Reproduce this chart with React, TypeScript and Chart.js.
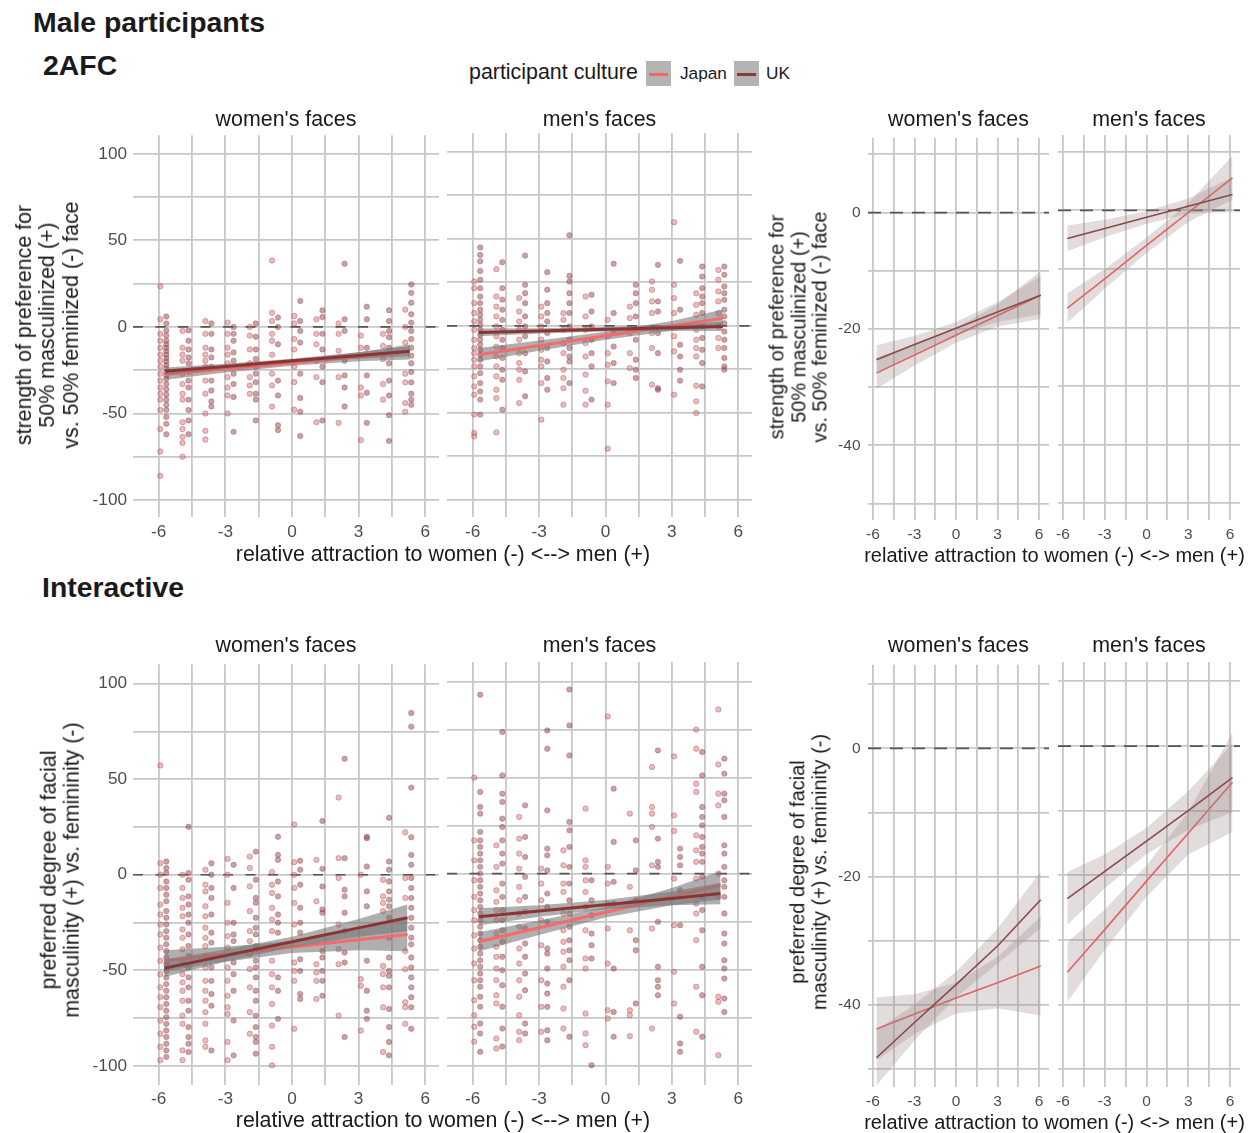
import React, { useEffect, useRef } from 'react';
import { Chart, registerables } from 'chart.js';
Chart.register(...registerables);

const FONT = '"Liberation Sans", Arial, Helvetica, sans-serif';

// ---------- shared axis values ----------
const X_GRID = [-6, -4.5, -3, -1.5, 0, 1.5, 3, 4.5, 6];
const X_LABELS = [-6, -3, 0, 3, 6];
const Y_GRID_RAW = [-100, -75, -50, -25, 0, 25, 50, 75, 100];
const Y_LABELS_RAW = [-100, -50, 0, 50, 100];
const Y_GRID_EST = [-50, -40, -30, -20, -10, 0, 10];
const Y_LABELS_EST = [-40, -20, 0];

// x position of each response column (even index = Japan, odd = UK)
const COL_X = [-5.93, -5.66, -4.93, -4.66, -3.9, -3.63, -2.9, -2.63, -1.9, -1.63, -0.9, -0.63,
  0.1, 0.37, 1.1, 1.37, 2.1, 2.37, 3.1, 3.37, 4.1, 4.37, 5.1, 5.37];

// ---------- 2AFC raw points ----------
const afcWomenCols: number[][] = [
  [23.5, 4.4, -4, -8, -12, -16, -19.5, -23, -27, -31, -35, -38.6, -42, -48, -59, -72, -86],
  [6, 2, -2, -5, -8, -10, -12, -14, -16, -18, -20, -22, -24, -26, -28, -30, -33, -36, -39, -42, -45, -48, -52, -56, -62],
  [-2.3, -12, -16, -19.5, -27, -33, -38.6, -42, -55, -59, -63.5, -67, -75],
  [-2, -8, -13, -17.6, -21, -26, -31, -35, -42, -48, -54, -62],
  [3.4, -4, -12, -16, -19.5, -23, -31, -38.6, -50, -60, -65],
  [2, -4, -13, -17.6, -23, -31, -36.7, -43, -46],
  [2.5, -4, -12, -16, -21, -29, -35, -39.6, -50],
  [0, -4, -8, -14.7, -19.5, -27, -33, -40.5, -60.6],
  [0, -5, -13, -21, -29, -33.8, -38.6],
  [2, -5.7, -13, -18.5, -23, -27, -31.9, -38.6, -42, -54],
  [38.4, 8.2, 3.4, -4, -8, -16, -27, -33.8, -46],
  [5.4, 0, -10, -31, -39.6, -56.8, -59.6],
  [6.3, 2, -7, -13, -23, -31.9, -47.8],
  [15, 3.4, -2.3, -9, -27, -41, -49, -63],
  [4.4, -4, -10, -19.5, -29, -55],
  [9.6, 5.7, -4, -13, -23, -31.9, -54],
  [2, -4, -13.8, -29, -55.4],
  [36.5, 4.4, -2.3, -19.5, -28, -35, -46],
  [-5, -12, -35, -39.6, -65.4],
  [11.7, 4.4, -12, -28, -38, -55.4],
  [-4, -11, -18.5, -33, -42],
  [9.6, 3.4, -2.3, -6, -12, -21, -31, -39.6, -51, -65.8],
  [10, 0, -9, -27, -32, -44, -49],
  [24.5, 19.7, 14, 7.3, 2.5, -2.3, -7, -12, -16.6, -21, -26, -32, -38.6, -42, -45],
];

const afcMenCols: number[][] = [
  [25.4, 21.6, 13, 7.3, 2.5, -2.3, -8, -12.8, -15.7, -19.5, -23.3, -29, -34.8, -39.6, -51, -61.6, -63.5],
  [45, 40.7, 37, 31.5, 26.4, 21.6, 16.8, 13, 9.2, 6.3, 3.4, 0.6, -2.3, -5.2, -8, -10.9, -13.8, -16.6, -19.5, -23.3, -27.2, -32.9, -37.7, -42.4, -51],
  [32.5, 16.8, 11, 5.4, -0.4, -6, -12, -17.6, -23.3, -29, -36.7, -41.5, -61.2],
  [36.5, 21.6, 15, 9.2, 3.4, -2.3, -8, -12.8, -18.5, -25.2, -31, -48.2],
  [15.9, 8.2, 2.5, -2.3, -8, -15.7, -21.4, -25.2, -31, -44.4],
  [40.3, 23.5, 18.7, 13, 5.4, -0.4, -6, -15.7, -26.2, -40.5],
  [11, 5.4, -0.4, -8, -13.8, -19.5, -23.3, -32.9, -53.9],
  [30.8, 20.7, 13, 7.3, 2.5, -4.2, -12.8, -20.5, -30, -36.7],
  [7.3, 3.4, -2.3, -9.9, -15.7, -25.2, -30, -35.8, -45.3],
  [52, 28.7, 25.4, 18.7, 13, 7.3, -0.4, -8, -12.8, -17.6, -20.5, -32.9],
  [16.8, 5.4, -2.3, -9.9, -17.6, -28, -37.3, -45.3],
  [17.8, 8.2, -0.4, -8, -15.7, -23.3, -42.4],
  [3.4, -6, -15.7, -22.4, -31.9, -45.3, -70.6],
  [35.6, 7.3, -4.2, -11.9, -21.4, -32.9],
  [11, 4.4, -4.2, -15.7, -24.3],
  [23.5, 18.7, 13, 5.4, -2.3, -8, -19.5, -25.2, -30],
  [25.4, 20.7, 14, 7.3, -4.2, -12.8, -33.8],
  [35, 14, 8.2, -4.2, -15.7, -35.8, -36.7],
  [59.5, 23.5, 15.9, 7.3, -6, -14.7, -39.6],
  [37.3, 9.2, -0.4, -10.9, -17.6, -25.2, -31.5],
  [18.7, 12, 6.3, -2.3, -8, -12.8, -17.6, -34.4, -43.4, -50.1],
  [34, 28.3, 21.6, 16.8, 13, 7.3, -0.4, -7, -13.8, -21.4, -34.8],
  [32.1, 26.4, 19.7, 14, 7.3, -0.4, -7, -12.8],
  [34, 29.3, 22.6, 18.7, 14.9, 9.2, 5.4, 1.5, -3.3, -8, -12.8, -18.5, -23.3, -25.2],
];

// ---------- Interactive raw points ----------
const intWomenCols: number[][] = [
  [57.2, 6, 0, -6.9, -15.6, -20.8, -26, -31.2, -38.1, -45, -52, -58.9, -64, -69.3, -76.3, -83.2, -90, -97],
  [6.9, 3.5, 0.9, -3.5, -6.9, -10.4, -13.9, -19, -22.5, -26, -29.5, -32.9, -36.4, -39.9, -43.3, -46.8, -50.3, -53.7, -57.2, -60.7, -64.1, -67.6, -71.1, -74.5, -78, -81.5, -84.9, -88.4, -91.9, -95.3],
  [0, -6.9, -12.1, -17.3, -21.7, -28.6, -33, -39, -45, -52, -56.3, -60.7, -65.9, -73.7, -78, -91.9, -97],
  [25.1, 0.9, -2.6, -11.3, -15.6, -20.8, -25.1, -31.2, -37.3, -42.5, -48.5, -53.7, -58.9, -65.9, -71.1, -79.7, -84.9, -88.4, -92.7],
  [2.6, -5.2, -8.7, -16.5, -21.7, -27.7, -33, -37.3, -42.5, -48.5, -55.5, -60.7, -65.9, -71.9, -78, -86.7, -90],
  [6, 0, -6.9, -12.1, -20.8, -30.3, -35.5, -43.3, -48.5, -55.5, -62.4, -68.5, -91.9],
  [8.3, 0, -14.7, -25.1, -32.1, -38.1, -48.5, -55.5, -63.3, -69.3, -72.8, -87.5, -97],
  [5.2, -6.9, -25.1, -31.2, -34.7, -45.9, -52, -60.7, -76.3, -94.5],
  [9.5, 3.5, -6.1, -19, -29.5, -34.7, -41.6, -49.4, -58.9, -71.9, -83.2],
  [12.1, -2.6, -12.1, -14.7, -22.5, -27.7, -31.2, -37.3, -45, -48.5, -53.7, -60.7, -65.9, -73.7, -79.7, -84.9, -87.5, -93.6],
  [1.4, -5.2, -9.5, -17.3, -23.4, -29.5, -45, -52, -58.9, -67.6, -78.9, -90, -99.7],
  [19.9, 10.4, 7.8, -3.5, -11.3, -20.8, -25.1, -30.3, -53.7, -60.7, -75.4],
  [26.3, 6.6, 0, -6.9, -14.7, -26, -45.9, -50.3, -55.5, -80.6],
  [7.3, 2.6, -5.2, -17.3, -25.1, -30.3, -44.2, -50.3, -62.4, -65],
  [7.8, -13.9, -46.8, -51.1, -55.5, -65],
  [28.1, 3.1, -6.1, -18.2, -19.9, -39.9, -43.3, -50.3, -55.5, -63.3],
  [40.4, 8.7, -1.7, -26, -39, -46.8, -73.7],
  [60.7, 8.7, -7.8, -11.3, -19.9, -29.5, -40.7, -45.9, -84.9],
  [0, -54.6, -58.1, -81.5],
  [19.9, 19.1, 4.3, -8.7, -16.5, -45, -60.7, -71.1, -75.4],
  [-2.6, -11.3, -14.7, -19, -47.7, -52, -58.9, -69.3, -92.7],
  [29.8, 6.9, 2.6, -3.5, -8.7, -13, -16.5, -22.5, -32.9, -43.3, -50.3, -52.9, -58.9, -70.2, -79.7, -87.5, -94.5],
  [22.2, -1.7, -12.1, -39.9, -49.4, -66.7, -69.3, -78],
  [84.6, 77.5, 45.6, 19.6, 10.4, 5.2, -1.7, -6.9, -12.1, -17.3, -22.5, -27.7, -32.9, -36.4, -43.3, -48.5, -53.7, -58.9, -64.1, -69.3, -80.6],
];

const intMenCols: number[][] = [
  [49.9, 17.3, 6.9, -3.5, -12.1, -19, -24.3, -32.1, -39, -46.8, -55.5, -65.9, -73.7, -79.7, -87.5],
  [93.1, 42.5, 34.7, 31.2, 21.7, 17.3, 13.9, 10.4, 6.9, 3.5, 0, -3.5, -6.9, -10.4, -13.9, -17.3, -20.8, -24.3, -27.7, -31.2, -34.7, -38.1, -41.6, -45.1, -48.5, -52, -55.5, -58.9, -64.1, -69.3, -78, -83.2, -92.7],
  [14.7, 3.5, -8.7, -14.7, -19, -24.3, -31.2, -38.1, -43.3, -49.4, -55.5, -63.3, -67.6, -85.8, -91],
  [73.7, 51.1, 41.6, 37.3, 28.6, 24.3, 17.3, 10.4, 5.2, -5.2, -12.1, -19, -24.3, -29.5, -35.5, -43.3, -50.3, -58.1, -69.3, -80.6, -90],
  [29.5, 18.2, 10.4, 2.6, -6.9, -13.9, -20.8, -27.7, -39, -46.8, -55.5, -64.1, -73.7, -82.3, -86.7],
  [35.5, 19.1, 8.7, -1.7, -12.1, -19.9, -28.6, -36.4, -43.3, -52, -60.7, -78, -83.2],
  [2.6, -5.2, -13.9, -24.3, -37.3, -55.5, -69.3, -82.3],
  [74.5, 65, 32.9, 13, 9.5, 1.7, -10.4, -17.3, -25.1, -39, -41.6, -49.4, -57.2, -62.4, -69.3, -81.5, -86.7],
  [12.1, 4.3, -5.2, -9.5, -20.8, -29.5, -35.5, -40.7, -48.5, -58.9, -70.2, -80.6],
  [95.8, 77.1, 61.5, 26.9, 22.5, 13.9, 3.5, -5.2, -13.9, -20.8, -27.7, -34.7, -39.9, -45.1, -55.5, -84.9],
  [33.8, 6.9, 3.5, -3.5, -9.5, -17.3, -29.5, -44.2, -49.4, -72.8, -83.2, -89.3],
  [-3.5, -13.9, -21.7, -31.2, -37.3, -44.2, -99.7],
  [81.8, 3.5, -5.2, -15.6, -28.6, -46.8, -71.1, -75.4],
  [44.2, 16.5, -4.3, -15.6, -49.4, -72, -84.9],
  [31.2, -6.9, -29.5, -71.1, -73.7, -84.6],
  [17.3, 1.7, -13.9, -34.7, -39.9, -67.6],
  [55.5, 34.7, 31.2, 24.3, 4.3, -28.6, -80.6],
  [64.1, 18.2, 6.1, 3.5, -25.1, -48.5, -55.5, -58.9, -63.3],
  [61, 30.3, 22.2, -2.6, -26.9, -51.1, -67.6],
  [13, 8.7, 4.3, -8.7, -26.9, -74.5, -88.4, -92.7],
  [74.9, 65, 46.8, 42.5, 19.9, 12.1, 6.1, -2.6, -15.6, -20.8, -34.7, -58.9, -82.3],
  [63.3, 51.1, 34.7, 29.5, 25.1, 19.1, 13.9, 10.4, 6.1, -1.7, -12.1, -19, -29.5, -48.5, -63.3, -84.9],
  [85.4, 56.8, 41.6, 35.5, 0, -12.1, -64.1, -66.7, -94.5],
  [59.8, 52, 41.6, 38.1, 29.5, 14.7, 10.4, 3.5, -3.5, -6.9, -12.1, -20.8, -31.2, -36.4, -45.1, -49.4, -54.6, -65, -72],
];

// ---------- regression fits (line + 95% band) ----------
const afcWomenFitX = [-5.7, -3, 0, 3, 5.3];
const afcWomenUk = [-25.6, -22.8, -19.6, -16.5, -14.1];
const afcWomenUkLo = [-27.8, -24.3, -20.8, -18.4, -17.0];
const afcWomenUkHi = [-23.4, -21.3, -18.4, -14.6, -11.2];
const afcWomenJp = [-27.5, -24.3, -20.8, -17.2, -14.5];
const afcWomenJpLo = [-30.5, -26.3, -22.4, -19.8, -18.8];
const afcWomenJpHi = [-24.5, -22.3, -19.2, -14.6, -10.2];

const afcMenFitX = [-5.73, -3, 0, 3, 5.3];
const afcMenUk = [-3.8, -2.96, -2.0, -1.1, -0.4];
const afcMenUkLo = [-6.0, -4.5, -3.3, -2.8, -3.0];
const afcMenUkHi = [-1.6, -1.4, -0.7, 0.6, 2.2];
const afcMenJp = [-16.6, -11.4, -5.7, 0.0, 4.4];
const afcMenJpLo = [-20.5, -14.3, -8.0, -2.8, -0.5];
const afcMenJpHi = [-12.7, -8.5, -3.4, 2.8, 9.3];

const intWomenFitX = [-5.75, -3, 0, 3, 5.2];
const intWomenUk = [-48.9, -42.3, -35.1, -27.8, -22.5];
const intWomenUkLo = [-53.5, -45.5, -37.8, -32.5, -29.5];
const intWomenUkHi = [-44.3, -39.1, -32.4, -23.1, -15.5];
const intWomenJp = [-45, -41.6, -37.8, -34.0, -31.2];
const intWomenJpLo = [-50.5, -45.5, -41, -39.5, -40.0];
const intWomenJpHi = [-39.5, -37.7, -34.6, -28.5, -22.4];

const intMenFitX = [-5.73, -3, 0, 3, 5.2];
const intMenUk = [-22.5, -19.5, -16.2, -12.9, -10.4];
const intMenUkLo = [-27.0, -22.5, -18.6, -16.5, -16.0];
const intMenUkHi = [-18.0, -16.5, -13.8, -9.3, -4.8];
const intMenJp = [-35.5, -28.2, -20.1, -12.0, -6.1];
const intMenJpLo = [-40.5, -32, -22.8, -16.5, -13.5];
const intMenJpHi = [-30.5, -24.4, -17.4, -7.5, 1.3];

// model estimates (right-hand panels)
const estAfcWomenX = [-5.75, -3, 0, 3, 6.12];
const estAfcWomenUk = [-25.3, -22.7, -19.9, -17.1, -14.2];
const estAfcWomenUkLo = [-27.8, -24.2, -21.0, -18.8, -17.5];
const estAfcWomenUkHi = [-22.8, -21.2, -18.8, -15.4, -10.9];
const estAfcWomenJp = [-27.6, -24.5, -21.1, -17.7, -14.2];
const estAfcWomenJpLo = [-30.3, -26.3, -22.4, -19.6, -18.3];
const estAfcWomenJpHi = [-24.9, -22.7, -19.8, -15.8, -10.1];

const estAfcMenX = [-5.69, -3, 0, 3, 6.18];
const estAfcMenUk = [-4.8, -3.1, -1.2, 0.7, 2.7];
const estAfcMenUkLo = [-7.0, -4.6, -2.3, -0.6, -0.3];
const estAfcMenUkHi = [-2.6, -1.6, -0.1, 2.0, 5.7];
const estAfcMenJp = [-16.7, -11.7, -6.0, -0.4, 5.55];
const estAfcMenJpLo = [-19.2, -13.4, -7.3, -2.0, 1.8];
const estAfcMenJpHi = [-14.2, -10.0, -4.7, 1.2, 9.3];

const estIntWomenX = [-5.75, -3, 0, 3, 6.12];
const estIntWomenUk = [-48.2, -42.7, -36.8, -30.8, -23.6];
const estIntWomenUkLo = [-52.5, -45.5, -38.8, -33.5, -28.0];
const estIntWomenUkHi = [-43.9, -39.9, -34.8, -28.1, -19.2];
const estIntWomenJp = [-43.7, -41.4, -38.9, -36.5, -33.9];
const estIntWomenJpLo = [-48.6, -44.5, -41.3, -40.5, -41.6];
const estIntWomenJpHi = [-38.8, -38.3, -36.5, -32.5, -26.2];

const estIntMenX = [-5.69, -3, 0, 3, 6.18];
const estIntMenUk = [-23.6, -19.4, -14.7, -10.0, -4.9];
const estIntMenUkLo = [-27.7, -22.0, -16.7, -13.0, -10.2];
const estIntMenUkHi = [-19.5, -16.8, -12.7, -7.0, 0.4];
const estIntMenJp = [-35, -28.4, -20.9, -13.5, -5.6];
const estIntMenJpLo = [-39.6, -31.5, -23.3, -16.8, -13.3];
const estIntMenJpHi = [-30.4, -25.3, -18.5, -10.2, 2.1];

// ---------- panel component ----------
type Fit = { x: number[]; uk: number[]; ukLo: number[]; ukHi: number[]; jp: number[]; jpLo: number[]; jpHi: number[] };
type Spec = {
  l: number; t: number; w: number; h: number;
  xMin: number; xMax: number; yMin: number; yMax: number;
  yGrid: number[]; yLabels: number[]; showY: boolean;
  tick: number; xPad: number; yPad: number;
  cols?: number[][]; fit: Fit; scatter: boolean; dash: number[];
};

const M = 14;
const XH = 40;

function Panel({ s }: { s: Spec }) {
  const ref = useRef<HTMLCanvasElement>(null);
  const YW = s.showY ? 70 : 0;
  const cw = M + YW + s.w + M;
  const ch = M + s.h + XH;
  useEffect(() => {
    if (!ref.current) return;
    const jpPts: { x: number; y: number }[] = [];
    const ukPts: { x: number; y: number }[] = [];
    if (s.cols) {
      s.cols.forEach((ys, i) => ys.forEach((y) => (i % 2 === 0 ? jpPts : ukPts).push({ x: COL_X[i], y })));
    }
    const mk = (arr: number[]) => s.fit.x.map((x, i) => ({ x, y: arr[i] }));
    const ribbon = s.scatter ? 'rgba(118,118,118,0.58)' : 'rgba(150,128,128,0.28)';
    const lw = s.scatter ? 3 : 1.6;
    const jpC = s.scatter ? '#f86a6a' : '#e06464';
    const ukC = s.scatter ? '#8e3333' : '#8c4848';
    const clear = 'rgba(0,0,0,0)';
    const base = { pointRadius: 0, pointHoverRadius: 0, borderWidth: 1, borderColor: clear, tension: 0, showLine: true };
    const datasets: any[] = [
      { data: jpPts, showLine: false, pointRadius: 2.7, pointBackgroundColor: 'rgba(236,98,102,0.46)', pointBorderColor: 'rgba(130,88,88,0.5)', pointBorderWidth: 0.8, order: 6 },
      { data: ukPts, showLine: false, pointRadius: 2.7, pointBackgroundColor: 'rgba(150,46,56,0.46)', pointBorderColor: 'rgba(130,88,88,0.5)', pointBorderWidth: 0.8, order: 6 },
      { ...base, data: mk(s.fit.jpLo), fill: false, order: 5 },
      { ...base, data: mk(s.fit.jpHi), fill: '-1', backgroundColor: ribbon, order: 5 },
      { ...base, data: mk(s.fit.jp), borderWidth: lw, borderColor: jpC, fill: false, order: 4 },
      { ...base, data: mk(s.fit.ukLo), fill: false, order: 3 },
      { ...base, data: mk(s.fit.ukHi), fill: '-1', backgroundColor: ribbon, order: 3 },
      { ...base, data: mk(s.fit.uk), borderWidth: lw, borderColor: ukC, fill: false, order: 2 },
    ];
    const zero = {
      id: 'zeroLine',
      beforeDatasetsDraw(chart: any) {
        const { ctx, chartArea: a, scales } = chart;
        const py = scales.y.getPixelForValue(0);
        ctx.save();
        ctx.strokeStyle = '#555555';
        ctx.lineWidth = 1.7;
        ctx.setLineDash(s.dash);
        ctx.beginPath();
        ctx.moveTo(a.left, py);
        ctx.lineTo(a.right, py);
        ctx.stroke();
        ctx.restore();
      },
    };
    const tickFont = { family: FONT, size: s.tick };
    const chart = new Chart(ref.current, {
      type: 'line',
      data: { datasets },
      plugins: [zero],
      options: {
        animation: false,
        responsive: false,
        maintainAspectRatio: false,
        layout: { padding: { left: M, right: M, top: M, bottom: 0 } },
        plugins: { legend: { display: false }, tooltip: { enabled: false } },
        elements: { line: { tension: 0 } },
        scales: {
          x: {
            type: 'linear', min: s.xMin, max: s.xMax, bounds: 'data',
            afterBuildTicks: (ax: any) => { ax.ticks = X_GRID.map((v) => ({ value: v })); },
            afterFit: (ax: any) => { ax.height = XH; },
            grid: { color: '#c7c7c7', lineWidth: 1.8, drawTicks: false },
            border: { display: false },
            ticks: {
              autoSkip: false, maxRotation: 0, minRotation: 0, padding: s.xPad, color: '#4d4d4d', font: tickFont,
              callback: (v: any) => (X_LABELS.includes(Number(v)) ? String(v) : ''),
            },
          },
          y: {
            type: 'linear', min: s.yMin, max: s.yMax, bounds: 'data',
            afterBuildTicks: (ax: any) => { ax.ticks = s.yGrid.map((v) => ({ value: v })); },
            afterFit: (ax: any) => { ax.width = YW; },
            grid: { color: '#c7c7c7', lineWidth: 1.8, drawTicks: false },
            border: { display: false },
            ticks: {
              display: s.showY, autoSkip: false, padding: s.yPad, color: '#4d4d4d', font: tickFont,
              callback: (v: any) => (s.yLabels.includes(Number(v)) ? String(v) : ''),
            },
          },
        },
      } as any,
    });
    return () => chart.destroy();
  }, []);
  return (
    <canvas
      ref={ref}
      width={cw}
      height={ch}
      style={{ position: 'absolute', left: s.l - M - YW, top: s.t - M, width: cw, height: ch }}
    />
  );
}

// ---------- text helpers ----------
function Txt({ x, y, size, bold, center, color, children }: any) {
  return (
    <div
      style={{
        position: 'absolute', left: x, top: y, fontFamily: FONT, fontSize: size, lineHeight: 1,
        fontWeight: bold ? 700 : 400, whiteSpace: 'nowrap', color: color || '#1a1a1a',
        transform: center ? 'translateX(-50%)' : undefined,
      }}
    >
      {children}
    </div>
  );
}

function VTxt({ cx, cy, size, lh, text }: any) {
  return (
    <div
      style={{
        position: 'absolute', left: cx, top: cy, fontFamily: FONT, fontSize: size, lineHeight: lh + 'px',
        whiteSpace: 'pre', textAlign: 'center', color: '#1a1a1a',
        transform: 'translate(-50%,-50%) rotate(-90deg)',
      }}
    >
      {text}
    </div>
  );
}

const RAW_X: [number, number] = [-7.16, 6.62];
const EST_X: [number, number] = [-6.36, 6.72];

const panels: Spec[] = [
  { l: 133, t: 133, w: 306, h: 384, xMin: RAW_X[0], xMax: RAW_X[1], yMin: -109.8, yMax: 110.7, yGrid: Y_GRID_RAW, yLabels: Y_LABELS_RAW, showY: true, tick: 17.2, xPad: 4.5, yPad: 6, cols: afcWomenCols, scatter: true, dash: [10, 12.5],
    fit: { x: afcWomenFitX, uk: afcWomenUk, ukLo: afcWomenUkLo, ukHi: afcWomenUkHi, jp: afcWomenJp, jpLo: afcWomenJpLo, jpHi: afcWomenJpHi } },
  { l: 447, t: 133, w: 305, h: 384, xMin: RAW_X[0], xMax: RAW_X[1], yMin: -109.8, yMax: 110.7, yGrid: Y_GRID_RAW, yLabels: Y_LABELS_RAW, showY: false, tick: 17.2, xPad: 4.5, yPad: 6, cols: afcMenCols, scatter: true, dash: [10, 12.5],
    fit: { x: afcMenFitX, uk: afcMenUk, ukLo: afcMenUkLo, ukHi: afcMenUkHi, jp: afcMenJp, jpLo: afcMenJpLo, jpHi: afcMenJpHi } },
  { l: 133, t: 662, w: 306, h: 423, xMin: RAW_X[0], xMax: RAW_X[1], yMin: -110, yMax: 110.1, yGrid: Y_GRID_RAW, yLabels: Y_LABELS_RAW, showY: true, tick: 17.2, xPad: 3.8, yPad: 6, cols: intWomenCols, scatter: true, dash: [10, 12.5],
    fit: { x: intWomenFitX, uk: intWomenUk, ukLo: intWomenUkLo, ukHi: intWomenUkHi, jp: intWomenJp, jpLo: intWomenJpLo, jpHi: intWomenJpHi } },
  { l: 447, t: 662, w: 305, h: 423, xMin: RAW_X[0], xMax: RAW_X[1], yMin: -110, yMax: 110.1, yGrid: Y_GRID_RAW, yLabels: Y_LABELS_RAW, showY: false, tick: 17.2, xPad: 3.8, yPad: 6, cols: intMenCols, scatter: true, dash: [10, 12.5],
    fit: { x: intMenFitX, uk: intMenUk, ukLo: intMenUkLo, ukHi: intMenUkHi, jp: intMenJp, jpLo: intMenJpLo, jpHi: intMenJpHi } },
  { l: 868, t: 135, w: 181, h: 385, xMin: EST_X[0], xMax: EST_X[1], yMin: -52.85, yMax: 12.85, yGrid: Y_GRID_EST, yLabels: Y_LABELS_EST, showY: true, tick: 15.5, xPad: 5.5, yPad: 7.5, scatter: false, dash: [13, 9],
    fit: { x: estAfcWomenX, uk: estAfcWomenUk, ukLo: estAfcWomenUkLo, ukHi: estAfcWomenUkHi, jp: estAfcWomenJp, jpLo: estAfcWomenJpLo, jpHi: estAfcWomenJpHi } },
  { l: 1058, t: 135, w: 182, h: 385, xMin: EST_X[0], xMax: EST_X[1], yMin: -52.85, yMax: 12.85, yGrid: Y_GRID_EST, yLabels: Y_LABELS_EST, showY: false, tick: 15.5, xPad: 5.5, yPad: 7.5, scatter: false, dash: [13, 9],
    fit: { x: estAfcMenX, uk: estAfcMenUk, ukLo: estAfcMenUkLo, ukHi: estAfcMenUkHi, jp: estAfcMenJp, jpLo: estAfcMenJpLo, jpHi: estAfcMenJpHi } },
  { l: 868, t: 662, w: 181, h: 425, xMin: EST_X[0], xMax: EST_X[1], yMin: -52.75, yMax: 13.0, yGrid: Y_GRID_EST, yLabels: Y_LABELS_EST, showY: true, tick: 15.5, xPad: 5.7, yPad: 7.5, scatter: false, dash: [13, 9],
    fit: { x: estIntWomenX, uk: estIntWomenUk, ukLo: estIntWomenUkLo, ukHi: estIntWomenUkHi, jp: estIntWomenJp, jpLo: estIntWomenJpLo, jpHi: estIntWomenJpHi } },
  { l: 1058, t: 662, w: 182, h: 425, xMin: EST_X[0], xMax: EST_X[1], yMin: -52.75, yMax: 13.0, yGrid: Y_GRID_EST, yLabels: Y_LABELS_EST, showY: false, tick: 15.5, xPad: 5.7, yPad: 7.5, scatter: false, dash: [13, 9],
    fit: { x: estIntMenX, uk: estIntMenUk, ukLo: estIntMenUkLo, ukHi: estIntMenUkHi, jp: estIntMenJp, jpLo: estIntMenJpLo, jpHi: estIntMenJpHi } },
];

const STRIP = 21.4;
const XTITLE_RAW = 'relative attraction to women (-) <--> men (+)';
const XTITLE_EST = 'relative attraction to women (-) <-> men (+)';
const YTITLE_AFC = 'strength of preference for\n50% masculinized (+)\nvs. 50% feminized (-) face';
const YTITLE_INT = 'preferred degree of facial\nmasculinity (+) vs. femininity (-)';

export default function App() {
  return (
    <div style={{ position: 'absolute', left: 0, top: 0, width: 1256, height: 1133, background: '#ffffff', overflow: 'hidden' }}>
      {panels.map((p, i) => <Panel key={i} s={p} />)}

      <Txt x={33} y={8.3} size={28.4} bold>Male participants</Txt>
      <Txt x={43} y={50.5} size={28.4} bold>2AFC</Txt>
      <Txt x={42} y={572.5} size={28.4} bold>Interactive</Txt>

      {/* legend */}
      <Txt x={469} y={61.5} size={21.4}>participant culture</Txt>
      <div style={{ position: 'absolute', left: 646, top: 61, width: 25, height: 25, background: '#b4b4b4' }} />
      <div style={{ position: 'absolute', left: 649, top: 72.5, width: 19, height: 3, background: '#f06868' }} />
      <Txt x={680} y={65.4} size={17.2}>Japan</Txt>
      <div style={{ position: 'absolute', left: 734, top: 61, width: 25, height: 25, background: '#b4b4b4' }} />
      <div style={{ position: 'absolute', left: 737, top: 72.5, width: 19, height: 3, background: '#8b3a3a' }} />
      <Txt x={766} y={65.4} size={17.2}>UK</Txt>

      {/* strips */}
      <Txt x={286} y={108.6} size={STRIP} center>women's faces</Txt>
      <Txt x={599.5} y={108.6} size={STRIP} center>men's faces</Txt>
      <Txt x={958.5} y={108.6} size={STRIP} center>women's faces</Txt>
      <Txt x={1149} y={108.6} size={STRIP} center>men's faces</Txt>
      <Txt x={286} y={635.2} size={STRIP} center>women's faces</Txt>
      <Txt x={599.5} y={635.2} size={STRIP} center>men's faces</Txt>
      <Txt x={958.5} y={635.2} size={STRIP} center>women's faces</Txt>
      <Txt x={1149} y={635.2} size={STRIP} center>men's faces</Txt>

      {/* x titles */}
      <Txt x={443} y={543.6} size={21.4} center>{XTITLE_RAW}</Txt>
      <Txt x={443} y={1110} size={21.4} center>{XTITLE_RAW}</Txt>
      <Txt x={1054.5} y={544.8} size={20} center>{XTITLE_EST}</Txt>
      <Txt x={1054.5} y={1112} size={20} center>{XTITLE_EST}</Txt>

      {/* y titles */}
      <VTxt cx={48} cy={325} size={21.4} lh={23.3} text={YTITLE_AFC} />
      <VTxt cx={60.5} cy={870} size={21.4} lh={23.3} text={YTITLE_INT} />
      <VTxt cx={798.5} cy={327} size={20} lh={21.7} text={YTITLE_AFC} />
      <VTxt cx={809} cy={872} size={20} lh={21.7} text={YTITLE_INT} />
    </div>
  );
}
